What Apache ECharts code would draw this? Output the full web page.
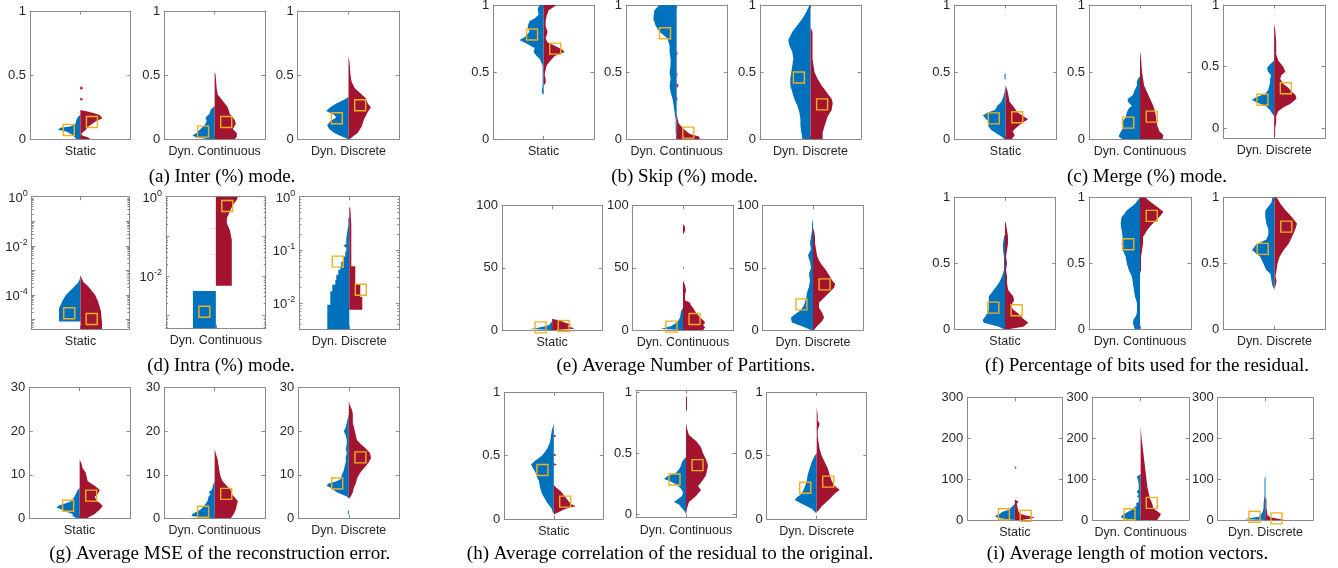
<!DOCTYPE html>
<html>
<head>
<meta charset="utf-8">
<title>Coding-mode statistics</title>
<script src="https://cdn.jsdelivr.net/npm/echarts@6.0.0/dist/echarts.min.js"></script>
<style>
  html, body { margin: 0; padding: 0; background: #ffffff; }
  #chart { width: 1338px; height: 568px; }
</style>
</head>
<body>
<div id="chart"></div>
<script>
// ---------------------------------------------------------------------------
// Data. Each half-violin is a list of [value, density width] pairs, ordered
// bottom to top. Blue = left half, red = right half. *Box holds the
// [blue, red] marker value of each category.
// ---------------------------------------------------------------------------
const categories = ['Static', 'Dyn. Continuous', 'Dyn. Discrete'];

const captions = [
  '(a) Inter (%) mode.',
  '(b) Skip (%) mode.',
  '(c) Merge (%) mode.',
  '(d) Intra (%) mode.',
  '(e) Average Number of Partitions.',
  '(f) Percentage of bits used for the residual.',
  '(g) Average MSE of the reconstruction error.',
  '(h) Average correlation of the residual to the original.',
  '(i) Average length of motion vectors.'
];

// (a) Inter
const interBlue = [
  [[0,4],[0.02,6],[0.04,9],[0.06,14],[0.075,22],[0.09,20],[0.1,10],[0.12,5],[0.15,4],[0.18,2],[0.19,0]],
  [[0,5],[0.015,18],[0.03,22],[0.05,18],[0.08,14],[0.11,10],[0.14,8],[0.17,9],[0.2,5],[0.23,4],[0.26,0]],
  [[0,0],[0.02,6],[0.05,14],[0.08,19],[0.11,21],[0.14,18],[0.17,12],[0.19,14],[0.22,22],[0.25,18],[0.28,12],[0.31,4],[0.33,0]]
];
const interRed = [
  [[0,10],[0.015,8],[0.03,2],[0.045,1],[0.07,5],[0.1,8],[0.138,15],[0.164,22],[0.19,19],[0.203,14],[0.216,7],[0.229,0],[0.3,0],[0.312,3],[0.325,0],[0.385,0],[0.397,3],[0.416,0]],
  [[0,20],[0.02,22],[0.05,22],[0.08,18],[0.12,21],[0.15,20],[0.2,15],[0.25,13],[0.3,8],[0.35,3],[0.4,2],[0.5,1],[0.53,0]],
  [[0,1],[0.02,4],[0.05,9],[0.1,13],[0.15,15],[0.2,18],[0.25,22],[0.28,19],[0.32,17],[0.35,13],[0.4,6],[0.45,3],[0.5,2],[0.6,1],[0.65,0]]
];
const interBox = [[0.073, 0.135], [0.06, 0.135], [0.164, 0.265]];

// (b) Skip
const skipBlue = [
  [[0.33,0],[0.35,2],[0.4,1],[0.5,1],[0.55,1],[0.6,4],[0.62,7],[0.65,10],[0.68,9],[0.72,19],[0.74,24],[0.76,19],[0.8,14],[0.84,16],[0.88,14],[0.9,9],[0.93,5],[0.97,6],[1,4]],
  [[0,0],[0.05,1],[0.1,1],[0.15,1],[0.2,2],[0.25,3],[0.3,4],[0.35,6],[0.4,7],[0.45,6],[0.5,7],[0.55,6],[0.6,6],[0.65,7],[0.7,7],[0.75,9],[0.8,17],[0.85,21],[0.9,23],[0.96,22],[1,17]],
  [[0,8],[0.05,9],[0.1,10],[0.15,10],[0.2,11],[0.25,13],[0.3,16],[0.35,18],[0.4,20],[0.45,20],[0.5,19],[0.55,18],[0.6,17],[0.65,18],[0.7,21],[0.74,22],[0.8,18],[0.85,13],[0.9,8],[0.95,4],[1,1]]
];
const skipRed = [
  [[0.4,0],[0.42,2],[0.45,2],[0.48,1],[0.52,2],[0.55,3],[0.58,6],[0.62,11],[0.65,21],[0.67,18],[0.7,10],[0.72,4],[0.75,2],[0.8,4],[0.84,2],[0.88,2],[0.92,3],[0.96,5],[0.99,11],[1,12]],
  [[0,23],[0.02,22],[0.04,13],[0.07,8],[0.1,4],[0.12,2],[0.15,1],[0.2,0],[0.28,0],[0.3,1],[0.32,0],[0.38,0],[0.4,2],[0.42,0],[0.47,0],[0.48,1],[0.5,0],[0.62,0],[0.64,1],[0.66,0]],
  [[0,12],[0.05,12],[0.1,14],[0.17,17],[0.22,21],[0.27,22],[0.3,21],[0.35,16],[0.4,11],[0.45,7],[0.5,4],[0.6,2],[0.7,2],[0.8,2],[0.83,0]]
];
const skipBox = [[0.78, 0.675], [0.79, 0.05], [0.46, 0.26]];

// (c) Merge
const mergeBlue = [
  [[0,1],[0.02,4],[0.04,8],[0.07,14],[0.1,17],[0.13,16],[0.15,19],[0.18,22],[0.2,17],[0.22,10],[0.25,8],[0.28,4],[0.32,2],[0.35,1],[0.4,0],[0.44,0],[0.45,1],[0.48,1],[0.5,0]],
  [[0,17],[0.02,21],[0.04,20],[0.08,17],[0.1,17],[0.13,18],[0.16,14],[0.2,13],[0.23,11],[0.25,8],[0.28,12],[0.3,12],[0.33,7],[0.37,5],[0.4,3],[0.43,3],[0.45,2],[0.47,0]],
  [[0.1,0],[0.12,2],[0.15,4],[0.18,8],[0.2,14],[0.23,22],[0.25,18],[0.28,9],[0.31,6],[0.34,5],[0.37,4],[0.4,4],[0.43,3],[0.46,6],[0.49,7],[0.52,4],[0.55,0]]
];
const mergeRed = [
  [[0,6],[0.03,9],[0.06,7],[0.09,11],[0.12,16],[0.15,22],[0.17,18],[0.2,12],[0.24,8],[0.28,4],[0.32,3],[0.36,2],[0.38,1],[0.4,0]],
  [[0,22],[0.03,23],[0.06,19],[0.1,17],[0.15,16],[0.2,15],[0.25,13],[0.3,10],[0.35,7],[0.4,4],[0.45,3],[0.5,2],[0.6,1],[0.66,0]],
  [[-0.08,0],[-0.05,1],[0,1],[0.05,2],[0.1,2],[0.14,4],[0.17,9],[0.2,16],[0.24,22],[0.27,21],[0.3,17],[0.33,14],[0.36,9],[0.4,6],[0.43,7],[0.46,11],[0.5,9],[0.55,4],[0.6,2],[0.7,2],[0.8,1],[0.85,0]]
];
const mergeBox = [[0.156, 0.164], [0.124, 0.169], [0.232, 0.325]];

// (d) Intra (logarithmic values)
const intraBlue = [
  [[8.3e-6,22],[2.9e-5,22],[6.3e-5,18],[1e-4,15],[1.86e-4,8],[3e-4,3],[4.1e-4,1],[6.5e-4,0]],
  [[4.8e-4,23],[4.2e-3,23],[4.2e-3,0],[0.0226,0],[0.0229,2],[0.0232,0],[0.0352,0],[0.0359,9],[0.0366,0],[0.084,0],[0.085,2],[0.086,0],[0.157,0],[0.159,9],[0.161,0]],
  [[3.2e-3,22],[9.3e-3,22],[9.3e-3,19],[0.0166,19],[0.0166,17],[0.022,17],[0.022,14],[0.0274,14],[0.0274,13],[0.034,13],[0.034,11],[0.042,11],[0.042,9],[0.049,9],[0.049,8],[0.06,8],[0.06,6],[0.075,6],[0.075,4],[0.093,4],[0.093,3],[0.11,3],[0.12,6],[0.13,3],[0.166,3],[0.22,2],[0.29,1],[0.39,1],[0.42,0]]
];
const intraRed = [
  [[4e-6,22],[8e-6,22],[2.1e-5,21],[5.4e-5,18],[1e-4,15],[2.2e-4,8],[3.4e-4,3],[5e-4,1],[6.5e-4,0]],
  [[5.7e-3,16],[0.081,16],[0.145,14],[0.214,11],[0.285,11],[0.417,14],[0.62,17],[0.826,21],[1,22]],
  [[7.5e-3,13],[0.013,13],[0.013,11],[0.022,11],[0.022,6],[0.049,6],[0.049,2],[0.3,2],[0.6,1],[0.65,0]]
];
const intraBox = [[1.8e-5, 1.05e-5], [1.26e-3, 0.583], [0.06, 0.0178]];

// (e) Average number of partitions
const partBlue = [
  [[0,2],[1,22],[1.5,16],[2,13],[3,7],[4,3],[6,1],[7,0]],
  [[0,3],[1,22],[2,17],[3,12],[5,8],[7,5],[10,3],[15,2],[18,0]],
  [[0,2],[3,11],[6,21],[10,22],[13,17],[16,12],[20,9],[25,7],[30,6],[35,4],[40,3],[45,4],[50,2],[55,3],[60,5],[65,2],[70,3],[75,2],[80,1],[85,1],[90,0]]
];
const partRed = [
  [[0,3],[1,22],[2,20],[3,15],[4,19],[5,17],[6,12],[7,10],[8,5],[9,0]],
  [[0,20],[2,22],[4,20],[6,22],[8,20],[10,17],[12,15],[15,12],[18,10],[20,8],[22,7],[24,2],[28,2],[32,3],[36,2],[40,0],[49,0],[50,1],[51,0],[77,0],[78,1],[80,2],[83,2],[85,0]],
  [[0,1],[3,4],[7,9],[10,11],[14,9],[18,6],[22,6],[26,11],[30,16],[34,21],[37,22],[40,19],[44,16],[48,13],[52,9],[56,6],[60,4],[65,3],[70,2],[75,2],[80,1],[82,0]]
];
const partBox = [[2.1, 3.2], [2.7, 8.8], [20.6, 36.7]];

// (f) Share of bits spent on the residual
const bitsBlue = [
  [[0,1],[0.02,6],[0.05,21],[0.07,22],[0.1,19],[0.15,16],[0.2,16],[0.25,16],[0.27,14],[0.3,11],[0.35,6],[0.4,3],[0.45,1],[0.5,1],[0.55,1],[0.6,2],[0.65,2],[0.7,1],[0.72,0]],
  [[0,5],[0.02,6],[0.05,7],[0.08,6],[0.1,4],[0.13,3],[0.15,3],[0.2,3],[0.25,5],[0.3,6],[0.35,7],[0.4,8],[0.45,11],[0.5,13],[0.55,14],[0.6,17],[0.65,18],[0.7,17],[0.75,18],[0.8,19],[0.85,18],[0.88,15],[0.9,13],[0.95,5],[0.98,2],[1,0]],
  [[0.3,0],[0.33,2],[0.37,3],[0.42,4],[0.45,8],[0.5,11],[0.55,14],[0.6,22],[0.64,18],[0.68,8],[0.72,6],[0.76,6],[0.8,8],[0.85,9],[0.9,9],[0.93,6],[0.96,3],[1,2]]
];
const bitsRed = [
  [[0,3],[0.02,18],[0.05,23],[0.08,18],[0.12,13],[0.15,8],[0.18,6],[0.22,9],[0.25,8],[0.3,3],[0.35,2],[0.4,2],[0.45,1],[0.5,2],[0.55,1],[0.6,2],[0.65,3],[0.7,3],[0.75,2],[0.8,1],[0.82,0]],
  [[0.42,0],[0.45,1],[0.5,1],[0.55,1],[0.6,2],[0.65,3],[0.7,3],[0.75,7],[0.78,10],[0.82,15],[0.86,20],[0.89,23],[0.92,18],[0.95,13],[0.98,8],[1,5]],
  [[0.3,0],[0.33,1],[0.36,2],[0.4,1],[0.45,2],[0.5,3],[0.55,5],[0.6,9],[0.65,14],[0.7,17],[0.75,20],[0.8,22],[0.85,17],[0.9,11],[0.95,6],[1,2]]
];
const bitsBox = [[0.164, 0.144], [0.644, 0.859], [0.609, 0.778]];

// (g) Average MSE of the reconstruction error
const mseBlue = [
  [[0,3],[0.5,7],[1,7],[1.5,13],[2,18],[2.5,23],[3,20],[3.5,13],[4,8],[5,5],[6,3],[6.5,2],[7,0]],
  [[0,4],[0.5,23],[1,22],[1.5,18],[2,14],[3,10],[4,7],[5,6],[5.5,4],[6,6],[6.5,3],[7,2],[7.5,2],[8,1],[8.5,0]],
  [[0.8,0],[1,1],[1.5,1],[2,0],[4.5,0],[5,2],[6,12],[7,18],[7.5,22],[8,20],[8.5,12],[9,8],[10,7],[11,5],[12,4],[13,3],[14,3],[15,2],[16,3],[17,2],[18,2],[19,3],[20,5],[21,3],[22,2],[23,1],[24,0]]
];
const mseRed = [
  [[0,7],[1,15],[2,20],[2.8,23],[3.5,20],[4,17],[5,15],[5.5,18],[6.5,20],[7.5,15],[8.5,8],[9.5,7],[10.5,6],[11.5,3],[12.5,2],[13.5,0]],
  [[0,16],[1,19],[2,21],[3,22],[4,23],[4.5,21],[5.5,17],[6.5,16],[7.5,12],[8.5,8],[9.5,6],[10.5,5],[12,4],[13.5,3],[15,1],[16,0]],
  [[4.5,0],[5,2],[6,4],[7,5],[8,7],[9,8],[10,10],[11,13],[12,17],[13,20],[13.8,22],[15,21],[16,17],[17,12],[18,8],[19,7],[20,6],[21,5],[22,4],[24,4],[25,3],[26,1],[27,0]]
];
const mseBox = [[2.9, 5.2], [1.5, 5.6], [8.0, 14.0]];

// (h) Average correlation of the residual to the original
const corrBlue = [
  [[0.05,1],[0.08,2],[0.12,6],[0.16,9],[0.2,12],[0.25,14],[0.3,15],[0.33,17],[0.36,18],[0.4,21],[0.43,23],[0.46,19],[0.5,12],[0.55,7],[0.6,4],[0.65,3],[0.7,2],[0.75,0]],
  [[0,0],[0.02,1],[0.05,4],[0.08,7],[0.1,12],[0.12,9],[0.15,4],[0.18,3],[0.21,5],[0.24,9],[0.27,16],[0.29,22],[0.31,19],[0.34,10],[0.37,7],[0.4,5],[0.43,4],[0.45,2],[0.47,0]],
  [[0.05,1],[0.08,5],[0.12,15],[0.15,22],[0.17,20],[0.2,15],[0.25,12],[0.3,10],[0.35,9],[0.4,7],[0.45,5],[0.5,2],[0.52,0]]
];
const corrRed = [
  [[0.04,1],[0.08,12],[0.1,22],[0.12,17],[0.15,14],[0.18,11],[0.22,7],[0.25,2],[0.27,0],[0.42,0],[0.43,3],[0.44,0],[0.495,0],[0.505,3],[0.515,0],[0.645,0],[0.655,3],[0.665,0]],
  [[0,0],[0.05,1],[0.1,3],[0.15,10],[0.2,15],[0.23,12],[0.27,16],[0.32,20],[0.36,21],[0.4,22],[0.45,20],[0.5,17],[0.55,15],[0.6,10],[0.65,3],[0.7,1],[0.75,0],[0.84,0],[0.86,1],[0.9,1],[0.95,1],[0.98,0]],
  [[0.06,1],[0.1,5],[0.15,12],[0.2,18],[0.23,23],[0.26,18],[0.3,15],[0.35,13],[0.4,11],[0.45,8],[0.5,5],[0.55,3],[0.6,2],[0.65,1],[0.7,1],[0.75,3],[0.78,1],[0.82,1],[0.88,0]]
];
const corrBox = [[0.387, 0.137], [0.285, 0.403], [0.247, 0.295]];

// (i) Average length of motion vectors
const mvBlue = [
  [[0,0],[5,18],[10,21],[15,16],[20,13],[25,6],[30,4],[35,2],[40,0]],
  [[0,5],[5,20],[10,20],[15,17],[20,13],[25,9],[30,7],[35,4],[40,5],[45,2],[55,2],[58,4],[62,2],[70,4],[75,2],[90,2],[100,3],[107,4],[112,0]],
  [[0,0],[2,22],[5,15],[8,7],[12,5],[20,3],[30,2],[40,2],[60,1],[80,1],[100,1],[110,0]]
];
const mvRed = [
  [[0,7],[3,16],[7,21],[10,14],[15,6],[20,4],[30,3],[40,2],[45,4],[50,0],[126,0],[128,2],[132,0]],
  [[0,17],[10,20],[15,21],[20,18],[25,15],[30,13],[40,12],[50,10],[60,9],[80,7],[100,6],[120,5],[140,4],[160,3],[180,2],[200,1],[230,0]],
  [[0,20],[3,13],[7,5],[12,2],[30,1],[50,1],[55,0]]
];
const mvBox = [[14, 10], [14, 42], [8, 4]];

// Axis limits per category and tick labels
const unitRange   = [[0, 1], [0, 1], [0, 1]];
const mergeRange  = [[0, 1], [0, 1], [-0.08, 1]];
const intraRange  = [[4e-6, 1], [4.8e-4, 1], [3.2e-3, 1]];
const partRange   = [[0, 100], [0, 100], [0, 100]];
const mseRange    = [[0, 30], [0, 30], [0, 30]];
const corrRange   = [[0, 1], [-0.028, 1.016], [0, 1]];
const mvRange     = [[0, 300], [0, 300], [0, 300]];

const unitTicks = [0, 0.5, 1];
const partTicks = [0, 50, 100];
const mseTicks  = [0, 10, 20, 30];
const mvTicks   = [0, 100, 200, 300];
const intraLabelExponents = [[-4, -2, 0], [-2, 0], [-2, -1, 0]];

// Panel table assembled from the arrays above
const panels = [
  { caption: captions[0], blue: interBlue, red: interRed, box: interBox, range: unitRange,  ticks: unitTicks },
  { caption: captions[1], blue: skipBlue,  red: skipRed,  box: skipBox,  range: unitRange,  ticks: unitTicks },
  { caption: captions[2], blue: mergeBlue, red: mergeRed, box: mergeBox, range: mergeRange, ticks: unitTicks },
  { caption: captions[3], blue: intraBlue, red: intraRed, box: intraBox, range: intraRange, log: intraLabelExponents },
  { caption: captions[4], blue: partBlue,  red: partRed,  box: partBox,  range: partRange,  ticks: partTicks },
  { caption: captions[5], blue: bitsBlue,  red: bitsRed,  box: bitsBox,  range: unitRange,  ticks: unitTicks },
  { caption: captions[6], blue: mseBlue,   red: mseRed,   box: mseBox,   range: mseRange,   ticks: mseTicks },
  { caption: captions[7], blue: corrBlue,  red: corrRed,  box: corrBox,  range: corrRange,  ticks: unitTicks },
  { caption: captions[8], blue: mvBlue,    red: mvRed,    box: mvBox,    range: mvRange,    ticks: mvTicks }
];

// ---------------------------------------------------------------------------
// Layout: plot boxes [left, top, width, height] in px, and caption anchors.
// ---------------------------------------------------------------------------
const layout = [
  [30, 11, 100.7, 128.3], [164.3, 11, 100.7, 128.3], [297.7, 11, 101.6, 128.3],
  [493.3, 5, 100.7, 134.3], [626, 5, 101.3, 134.3], [760, 5, 101, 134.3],
  [954.3, 5, 102.4, 134.3], [1089, 5, 102, 134.3], [1223.3, 5, 101.7, 133.3],
  [31.7, 196.7, 97.6, 132.6], [166, 196.7, 99.7, 131.6], [299.3, 196.7, 100, 132.6],
  [502, 205.7, 100.3, 124.3], [632.7, 205.7, 100.6, 124.3], [762.7, 205.7, 100.6, 124.3],
  [954.3, 197.3, 101.4, 132], [1089, 197.3, 102, 132], [1223.3, 197.3, 102.4, 132],
  [29.3, 387.7, 100.7, 130.6], [164.3, 387.7, 100.7, 130.6], [298.3, 387.7, 101, 130.6],
  [504.3, 392.3, 99, 126.7], [636, 390.3, 100, 127.4], [766.7, 392.3, 100, 126.7],
  [967.3, 397.7, 95, 122.3], [1092.3, 397.7, 96.7, 122.3], [1217.7, 397.7, 95.6, 122.3]
];
const captionAnchors = [
  [222, 177], [684.5, 177], [1147, 177],
  [221, 366], [685.8, 366], [1147, 366],
  [219.7, 554], [670, 554], [1127.5, 554]
];

const BLUE = '#0072BD';
const RED = '#A2142F';
const GOLD = '#EDB120';
const FRAME = '#8a8a8a';
const INK = '#262626';
const SANS = '"Liberation Sans", Arial, Helvetica, sans-serif';
const SERIF = '"Liberation Serif", "Times New Roman", Times, serif';
const WIDTH_SCALE = 1 / 50;  // density width -> fraction of the half axis
const MARKER_X = 0.23;       // horizontal offset of the marker squares

// Draws one half-violin as a single closed polygon through all its points.
function renderHalf(params, api) {
  if (params.dataIndexInside !== 0) return null;
  const n = params.dataInsideLength;
  const pts = [api.coord([0, api.value(1, 0)])];
  for (let i = 0; i < n; i++) {
    pts.push(api.coord([api.value(0, i), api.value(1, i)]));
  }
  pts.push(api.coord([0, api.value(1, n - 1)]));
  const cs = params.coordSys;
  return {
    type: 'polygon',
    shape: { points: pts },
    style: { fill: api.visual('color'), stroke: null },
    clipPath: { type: 'rect', shape: { x: cs.x, y: cs.y, width: cs.width, height: cs.height } }
  };
}

const frameLine = { show: true, onZero: false, lineStyle: { color: FRAME, width: 1 } };
const tickStyle = { color: FRAME, width: 1 };

const grid = [], xAxis = [], yAxis = [], series = [], graphic = [];

panels.forEach((panel, p) => {
  for (let k = 0; k < 3; k++) {
    const g = p * 3 + k;
    const [left, top, width, height] = layout[g];
    grid.push({ left, top, width, height, show: false, containLabel: false, outerBoundsMode: 'none' });

    // x: one centred category tick, mirrored on the top edge
    const xCommon = {
      gridIndex: g, type: 'value', min: -1, max: 1,
      axisLine: frameLine, splitLine: { show: false },
      axisTick: { show: true, inside: true, length: 3.5, customValues: [0], lineStyle: tickStyle }
    };
    xAxis.push(Object.assign({}, xCommon, {
      position: 'bottom',
      axisLabel: {
        show: true, customValues: [0], margin: 6,
        formatter: () => categories[k],
        fontFamily: SANS, fontSize: 12.5, color: INK
      }
    }));
    xAxis.push(Object.assign({}, xCommon, { position: 'top', axisLabel: { show: false } }));

    // y: left axis with labels, right axis mirrors the ticks
    const [yMin, yMax] = panel.range[k];
    let yCommon;
    let yLabel;
    if (panel.log) {
      const exps = panel.log[k];
      yCommon = {
        gridIndex: g, type: 'log', logBase: 10, min: yMin, max: yMax,
        axisLine: frameLine, splitLine: { show: false }, minorSplitLine: { show: false },
        axisTick: { show: true, inside: true, length: 3.5, lineStyle: tickStyle },
        minorTick: { show: true, splitNumber: 9, length: 2, lineStyle: tickStyle }
      };
      yLabel = {
        show: true, margin: 4, showMinLabel: true, showMaxLabel: true,
        formatter: (v) => {
          const e = Math.log10(v);
          const r = Math.round(e);
          if (Math.abs(e - r) > 1e-6 || exps.indexOf(r) < 0) return '';
          return '{b|10}{s|' + r + '}';
        },
        rich: {
          b: { fontFamily: SANS, fontSize: 13, color: INK, verticalAlign: 'bottom' },
          s: { fontFamily: SANS, fontSize: 9, color: INK, verticalAlign: 'bottom', padding: [0, 0, 7, 0] }
        }
      };
    } else {
      yCommon = {
        gridIndex: g, type: 'value', min: yMin, max: yMax,
        axisLine: frameLine, splitLine: { show: false },
        axisTick: { show: true, inside: true, length: 3.5, customValues: panel.ticks, lineStyle: tickStyle }
      };
      yLabel = {
        show: true, margin: 4, customValues: panel.ticks,
        fontFamily: SANS, fontSize: 13, color: INK
      };
    }
    yAxis.push(Object.assign({}, yCommon, { position: 'left', axisLabel: yLabel }));
    yAxis.push(Object.assign({}, yCommon, { position: 'right', axisLabel: { show: false } }));

    const xi = g * 2, yi = g * 2;
    [[panel.blue[k], -1, BLUE], [panel.red[k], 1, RED]].forEach(([profile, side, color]) => {
      series.push({
        type: 'custom',
        xAxisIndex: xi, yAxisIndex: yi,
        renderItem: renderHalf,
        itemStyle: { color },
        encode: { x: 0, y: 1 },
        data: profile.map(([v, w]) => [side * w * WIDTH_SCALE, v]),
        silent: true, z: 2
      });
    });

    series.push({
      type: 'scatter',
      xAxisIndex: xi, yAxisIndex: yi,
      symbol: 'rect', symbolSize: 11,
      itemStyle: { color: 'rgba(0,0,0,0)', borderColor: GOLD, borderWidth: 1.4, opacity: 1 },
      data: [[-MARKER_X, panel.box[k][0]], [MARKER_X, panel.box[k][1]]],
      silent: true, z: 5
    });
  }

  const [cx, cy] = captionAnchors[p];
  graphic.push({
    type: 'text', x: cx, y: cy, silent: true,
    style: {
      text: panel.caption, fill: '#000000',
      font: '19px ' + SERIF, align: 'center', verticalAlign: 'middle'
    }
  });
});

const chart = echarts.init(document.getElementById('chart'), null, { renderer: 'canvas' });
chart.setOption({
  animation: false,
  backgroundColor: '#ffffff',
  grid, xAxis, yAxis, series, graphic
});
</script>
</body>
</html>
